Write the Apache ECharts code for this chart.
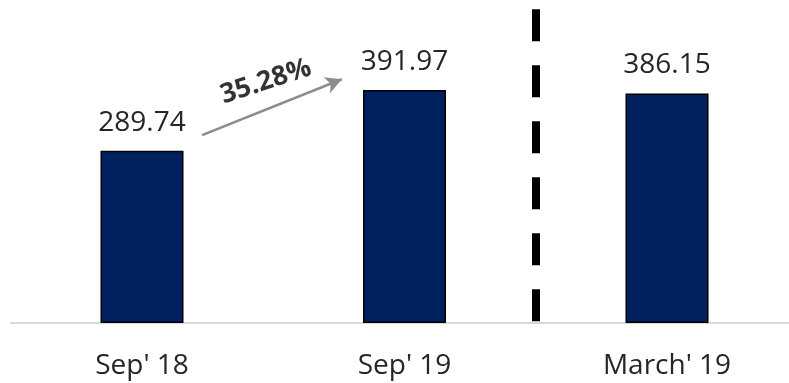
<!DOCTYPE html>
<html>
<head>
<meta charset="utf-8">
<script src="https://cdn.jsdelivr.net/npm/echarts@6/dist/echarts.min.js"></script>
<style>
  html, body { margin: 0; padding: 0; background: #ffffff; }
  #chart { width: 789px; height: 383px; }
</style>
</head>
<body>
<div id="chart"></div>
<script>
// Period labels and values
const categories = ["Sep' 18", "Sep' 19", "March' 19"];
const values = [289.74, 391.97, 386.15];

// Year-on-year growth between the first two periods
const growth = (values[1] - values[0]) / values[0] * 100;
const growthLabel = growth.toFixed(2) + '%';

// Annotation anchors in data space (x as category index, y as value)
const arrowFrom = [0.229, 316];
const arrowTo = [0.761, 410];
const growthTextAt = [0.472, 406];
const dividerX = 1.5;
const dividerTop = 528;

const FONT = '"Open Sans", "Liberation Sans", sans-serif';
const TEXT_COLOR = '#262626';

const chart = echarts.init(document.getElementById('chart'), null, { renderer: 'canvas' });

chart.setOption({
  animation: false,
  backgroundColor: '#ffffff',
  // plot area runs slightly past the right edge of the canvas
  grid: {
    left: 10.75, top: 2, width: 787.5, height: 321,
    containLabel: false,
    outerBoundsMode: 'none'
  },
  xAxis: [
    {
      type: 'category',
      data: categories,
      axisLine: { show: true, lineStyle: { color: '#d9d9d9', width: 2 } },
      axisTick: { show: false },
      axisLabel: { color: TEXT_COLOR, fontFamily: FONT, fontSize: 28, margin: 29 },
      splitLine: { show: false }
    },
    {
      type: 'value',
      min: -0.5,
      max: 2.5,
      show: false
    }
  ],
  yAxis: {
    type: 'value',
    min: 0,
    max: 540,
    show: false,
    splitLine: { show: false }
  },
  series: [
    {
      type: 'bar',
      xAxisIndex: 0,
      data: values,
      barWidth: 83,
      itemStyle: { color: '#002060', borderColor: '#000000', borderWidth: 1.5 },
      label: {
        show: true,
        position: 'top',
        distance: 14,
        color: TEXT_COLOR,
        fontFamily: FONT,
        fontSize: 28,
        formatter: (p) => p.value.toFixed(2)
      }
    },
    {
      type: 'scatter',
      xAxisIndex: 1,
      symbolSize: 0,
      data: [growthTextAt],
      label: {
        show: true,
        position: 'inside',
        rotate: 18,
        color: '#000000',
        fontFamily: FONT,
        fontWeight: 'bold',
        fontSize: 27,
        formatter: () => growthLabel
      },
      markLine: {
        silent: true,
        symbol: 'none',
        label: { show: false },
        data: [
          [
            { coord: arrowFrom, symbol: 'none', lineStyle: { color: '#8c8c8c', width: 2.5, type: 'solid' } },
            { coord: arrowTo, symbol: 'arrow', symbolSize: [13, 16] }
          ],
          [
            { coord: [dividerX, dividerTop], symbol: 'none', lineStyle: { color: '#000000', width: 8, type: [32, 24] } },
            { coord: [dividerX, 0], symbol: 'none' }
          ]
        ]
      }
    }
  ]
});
</script>
</body>
</html>
